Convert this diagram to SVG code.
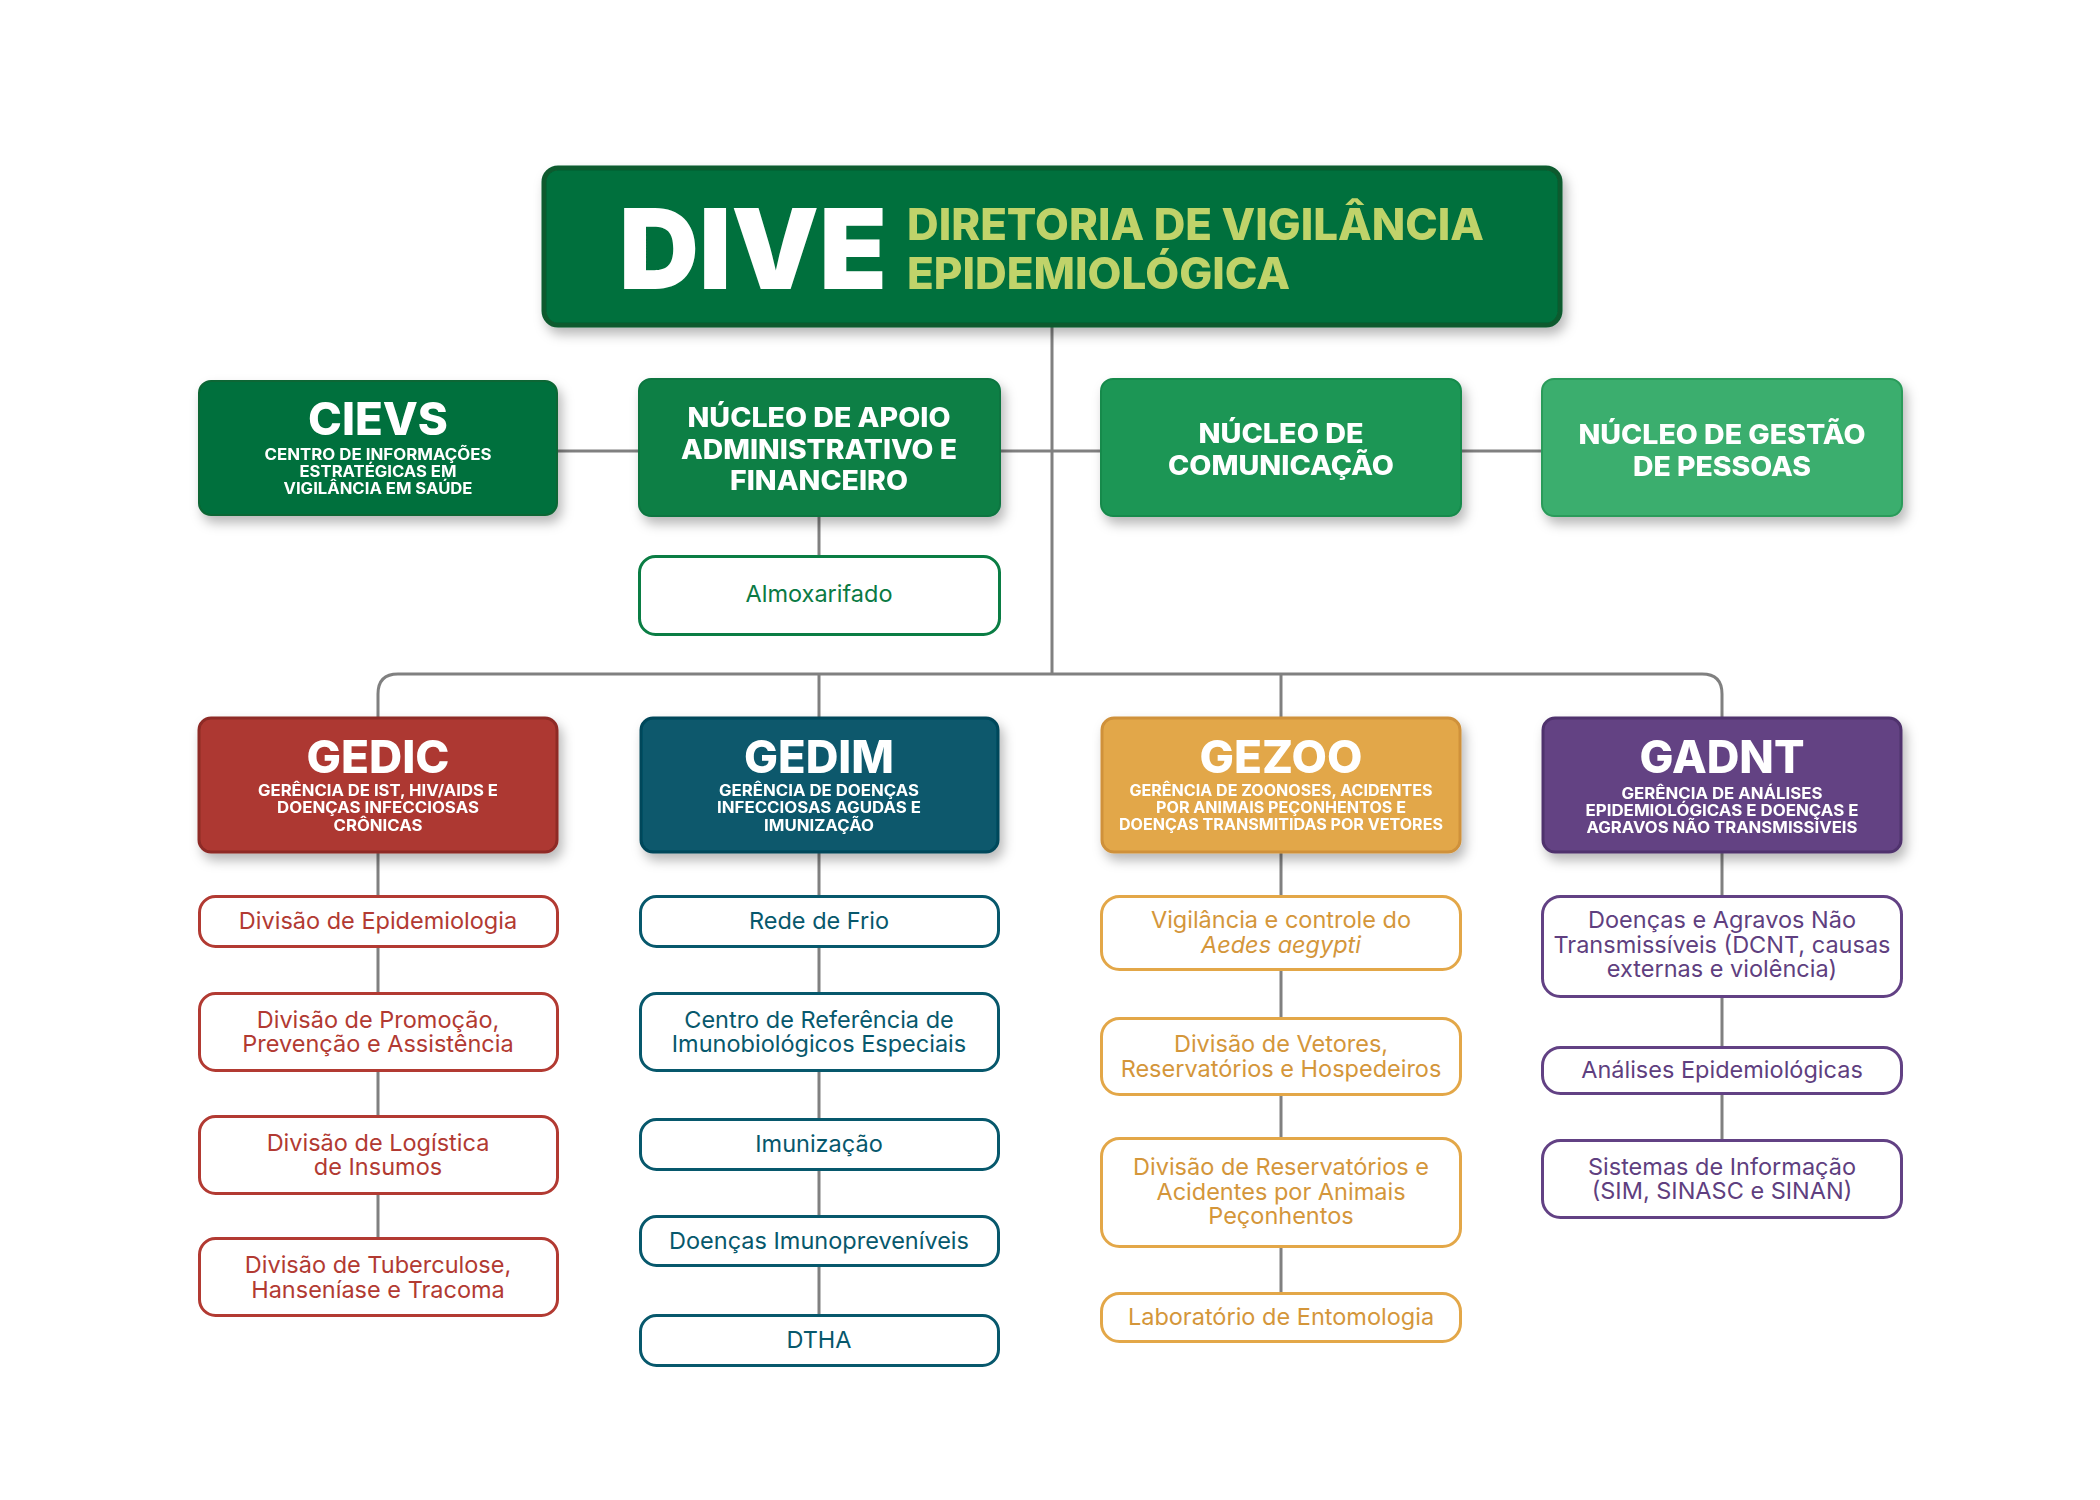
<svg xmlns="http://www.w3.org/2000/svg" width="2100" height="1500" viewBox="0 0 2100 1500">
<defs>
<filter id="sh" x="-10%" y="-20%" width="125%" height="150%">
<feDropShadow dx="4" dy="7" stdDeviation="6" flood-color="#000" flood-opacity="0.28"/>
</filter>
<style>
.conn{fill:none;stroke:#808080;stroke-width:3}
.hd{filter:url(#sh)}
.t{font-family:Inter,"Noto Sans","Liberation Sans",sans-serif;text-anchor:middle}
.big{font-weight:800;font-size:45px;fill:#fff}
.sub{font-weight:700;font-size:15.5px;fill:#fff}
.nuc{font-weight:800;font-size:27px;fill:#fff}
.ch{font-weight:400;font-size:23.5px}
.box{fill:#fff;stroke-width:3}
.red .box{stroke:#b23a32}.red text{fill:#b23a32}
.teal .box{stroke:#07586c}.teal text{fill:#07586c}
.org .box{stroke:#e3a748}.org text{fill:#d4963a}
.pur .box{stroke:#624184}.pur text{fill:#5f3f80}
.grn .box{stroke:#0a7d44}.grn text{fill:#0a7a44}
</style>
</defs>
<rect width="2100" height="1500" fill="#fff"/>
<g id="connectors">
<path class="conn" d="M1052,327 V674"/>
<path class="conn" d="M558,451 H1541"/>
<path class="conn" d="M819,517 V555"/>
<path class="conn" d="M378,717 V694 Q378,674 398,674 H1702 Q1722,674 1722,694 V717"/>
<path class="conn" d="M819,674 V717"/>
<path class="conn" d="M1281,674 V717"/>
<path class="conn" d="M378,853 V1237"/>
<path class="conn" d="M819,853 V1314"/>
<path class="conn" d="M1281,853 V1292"/>
<path class="conn" d="M1722,853 V1139"/>
</g>
<g id="dive" class="hd">
<rect x="544" y="168" width="1016" height="157" rx="14" fill="#00703c" stroke="#0b5a2f" stroke-width="5"/>
<text class="t" x="753" y="289" style="font-weight:900;font-size:112px;fill:#fff" textLength="268" lengthAdjust="spacingAndGlyphs">DIVE</text>
<text x="907" y="240" style="font-family:Inter,'Liberation Sans',sans-serif;font-weight:800;font-size:44px;fill:#c0d36b" textLength="577" lengthAdjust="spacingAndGlyphs">DIRETORIA DE VIGILÂNCIA</text>
<text x="907" y="289" style="font-family:Inter,'Liberation Sans',sans-serif;font-weight:800;font-size:44px;fill:#c0d36b" textLength="383" lengthAdjust="spacingAndGlyphs">EPIDEMIOLÓGICA</text>
</g>
<g id="cievs" class="hd">
<rect x="199" y="381" width="358" height="134" rx="12" fill="#00703c" stroke="#0a6634" stroke-width="2"/>
<text class="t big" x="378" y="435" textLength="140" lengthAdjust="spacingAndGlyphs">CIEVS</text>
<text class="t sub" x="378" y="460" textLength="227" lengthAdjust="spacingAndGlyphs">CENTRO DE INFORMAÇÕES</text>
<text class="t sub" x="378" y="477" textLength="157" lengthAdjust="spacingAndGlyphs">ESTRATÉGICAS EM</text>
<text class="t sub" x="378" y="494" textLength="189" lengthAdjust="spacingAndGlyphs">VIGILÂNCIA EM SAÚDE</text>
</g>
<g id="apoio" class="hd">
<rect x="639" y="379" width="361" height="137" rx="12" fill="#0a7f45" stroke="#087540" stroke-width="2"/>
<text class="t nuc" x="819" y="427" textLength="263" lengthAdjust="spacingAndGlyphs">NÚCLEO DE APOIO</text>
<text class="t nuc" x="819" y="458.5" textLength="276" lengthAdjust="spacingAndGlyphs">ADMINISTRATIVO E</text>
<text class="t nuc" x="819" y="490" textLength="178" lengthAdjust="spacingAndGlyphs">FINANCEIRO</text>
</g>
<g id="comunicacao" class="hd">
<rect x="1101" y="379" width="360" height="137" rx="12" fill="#1c9655" stroke="#168a4c" stroke-width="2"/>
<text class="t nuc" x="1281" y="443" textLength="165" lengthAdjust="spacingAndGlyphs">NÚCLEO DE</text>
<text class="t nuc" x="1281" y="475" textLength="226" lengthAdjust="spacingAndGlyphs">COMUNICAÇÃO</text>
</g>
<g id="gestao" class="hd">
<rect x="1542" y="379" width="360" height="137" rx="12" fill="#3bae6e" stroke="#2a9b5a" stroke-width="2"/>
<text class="t nuc" x="1722" y="444" textLength="287" lengthAdjust="spacingAndGlyphs">NÚCLEO DE GESTÃO</text>
<text class="t nuc" x="1722" y="476" textLength="178" lengthAdjust="spacingAndGlyphs">DE PESSOAS</text>
</g>
<g id="almoxarifado" class="grn">
<rect class="box" x="639.5" y="556.5" width="360" height="78" rx="16"/>
<text class="t ch" x="819" y="602">Almoxarifado</text>
</g>
<g id="gedic" class="hd">
<rect x="199" y="718" width="358" height="134" rx="12" fill="#ad3831" stroke="#8e2b26" stroke-width="3"/>
<text class="t big" x="378" y="773" textLength="143" lengthAdjust="spacingAndGlyphs">GEDIC</text>
<text class="t sub" x="378" y="796" textLength="240" lengthAdjust="spacingAndGlyphs">GERÊNCIA DE IST, HIV/AIDS E</text>
<text class="t sub" x="378" y="813" textLength="202" lengthAdjust="spacingAndGlyphs">DOENÇAS INFECCIOSAS</text>
<text class="t sub" x="378" y="831" textLength="89" lengthAdjust="spacingAndGlyphs">CRÔNICAS</text>
</g>
<g id="gedim" class="hd">
<rect x="641" y="718" width="357" height="134" rx="12" fill="#07586c" stroke="#05475a" stroke-width="3"/>
<text class="t big" x="819" y="773" textLength="150" lengthAdjust="spacingAndGlyphs">GEDIM</text>
<text class="t sub" x="819" y="796" textLength="200" lengthAdjust="spacingAndGlyphs">GERÊNCIA DE DOENÇAS</text>
<text class="t sub" x="819" y="813" textLength="204" lengthAdjust="spacingAndGlyphs">INFECCIOSAS AGUDAS E</text>
<text class="t sub" x="819" y="831" textLength="110" lengthAdjust="spacingAndGlyphs">IMUNIZAÇÃO</text>
</g>
<g id="gezoo" class="hd">
<rect x="1102" y="718" width="358" height="134" rx="12" fill="#e2a748" stroke="#cf913a" stroke-width="3"/>
<text class="t big" x="1281" y="773" textLength="163" lengthAdjust="spacingAndGlyphs">GEZOO</text>
<text class="t sub" x="1281" y="796" textLength="303" lengthAdjust="spacingAndGlyphs">GERÊNCIA DE ZOONOSES, ACIDENTES</text>
<text class="t sub" x="1281" y="813" textLength="250" lengthAdjust="spacingAndGlyphs">POR ANIMAIS PEÇONHENTOS E</text>
<text class="t sub" x="1281" y="830" textLength="324" lengthAdjust="spacingAndGlyphs">DOENÇAS TRANSMITIDAS POR VETORES</text>
</g>
<g id="gadnt" class="hd">
<rect x="1543" y="718" width="358" height="134" rx="12" fill="#634283" stroke="#50336d" stroke-width="3"/>
<text class="t big" x="1722" y="773" textLength="165" lengthAdjust="spacingAndGlyphs">GADNT</text>
<text class="t sub" x="1722" y="799" textLength="201" lengthAdjust="spacingAndGlyphs">GERÊNCIA DE ANÁLISES</text>
<text class="t sub" x="1722" y="816" textLength="273" lengthAdjust="spacingAndGlyphs">EPIDEMIOLÓGICAS E DOENÇAS E</text>
<text class="t sub" x="1722" y="833" textLength="271" lengthAdjust="spacingAndGlyphs">AGRAVOS NÃO TRANSMISSÍVEIS</text>
</g>
<g id="gedic-1" class="red"><rect class="box" x="199.5" y="896.5" width="358" height="50" rx="16"/><text class="t ch" x="378" y="929">Divisão de Epidemiologia</text></g>
<g id="gedic-2" class="red"><rect class="box" x="199.5" y="993.5" width="358" height="77" rx="16"/><text class="t ch" x="378" y="1028">Divisão de Promoção,</text><text class="t ch" x="378" y="1052">Prevenção e Assistência</text></g>
<g id="gedic-3" class="red"><rect class="box" x="199.5" y="1116.5" width="358" height="77" rx="16"/><text class="t ch" x="378" y="1151">Divisão de Logística</text><text class="t ch" x="378" y="1175">de Insumos</text></g>
<g id="gedic-4" class="red"><rect class="box" x="199.5" y="1238.5" width="358" height="77" rx="16"/><text class="t ch" x="378" y="1273">Divisão de Tuberculose,</text><text class="t ch" x="378" y="1298">Hanseníase e Tracoma</text></g>
<g id="gedim-1" class="teal"><rect class="box" x="640.5" y="896.5" width="358" height="50" rx="16"/><text class="t ch" x="819" y="929">Rede de Frio</text></g>
<g id="gedim-2" class="teal"><rect class="box" x="640.5" y="993.5" width="358" height="77" rx="16"/><text class="t ch" x="819" y="1028">Centro de Referência de</text><text class="t ch" x="819" y="1052">Imunobiológicos Especiais</text></g>
<g id="gedim-3" class="teal"><rect class="box" x="640.5" y="1119.5" width="358" height="50" rx="16"/><text class="t ch" x="819" y="1152">Imunização</text></g>
<g id="gedim-4" class="teal"><rect class="box" x="640.5" y="1216.5" width="358" height="49" rx="16"/><text class="t ch" x="819" y="1249">Doenças Imunopreveníveis</text></g>
<g id="gedim-5" class="teal"><rect class="box" x="640.5" y="1315.5" width="358" height="50" rx="16"/><text class="t ch" x="819" y="1348">DTHA</text></g>
<g id="gezoo-1" class="org"><rect class="box" x="1101.5" y="896.5" width="359" height="73" rx="18"/><text class="t ch" x="1281" y="928">Vigilância e controle do</text><text class="t ch" x="1281" y="953" font-style="italic">Aedes aegypti</text></g>
<g id="gezoo-2" class="org"><rect class="box" x="1101.5" y="1018.5" width="359" height="76" rx="18"/><text class="t ch" x="1281" y="1052">Divisão de Vetores,</text><text class="t ch" x="1281" y="1077">Reservatórios e Hospedeiros</text></g>
<g id="gezoo-3" class="org"><rect class="box" x="1101.5" y="1138.5" width="359" height="108" rx="18"/><text class="t ch" x="1281" y="1175">Divisão de Reservatórios e</text><text class="t ch" x="1281" y="1200">Acidentes por Animais</text><text class="t ch" x="1281" y="1224">Peçonhentos</text></g>
<g id="gezoo-4" class="org"><rect class="box" x="1101.5" y="1293.5" width="359" height="48" rx="18"/><text class="t ch" x="1281" y="1325">Laboratório de Entomologia</text></g>
<g id="gadnt-1" class="pur"><rect class="box" x="1542.5" y="896.5" width="359" height="100" rx="18"/><text class="t ch" x="1722" y="928">Doenças e Agravos Não</text><text class="t ch" x="1722" y="953">Transmissíveis (DCNT, causas</text><text class="t ch" x="1722" y="977">externas e violência)</text></g>
<g id="gadnt-2" class="pur"><rect class="box" x="1542.5" y="1047.5" width="359" height="46" rx="18"/><text class="t ch" x="1722" y="1078">Análises Epidemiológicas</text></g>
<g id="gadnt-3" class="pur"><rect class="box" x="1542.5" y="1140.5" width="359" height="77" rx="18"/><text class="t ch" x="1722" y="1175">Sistemas de Informação</text><text class="t ch" x="1722" y="1199">(SIM, SINASC e SINAN)</text></g>
</svg>
